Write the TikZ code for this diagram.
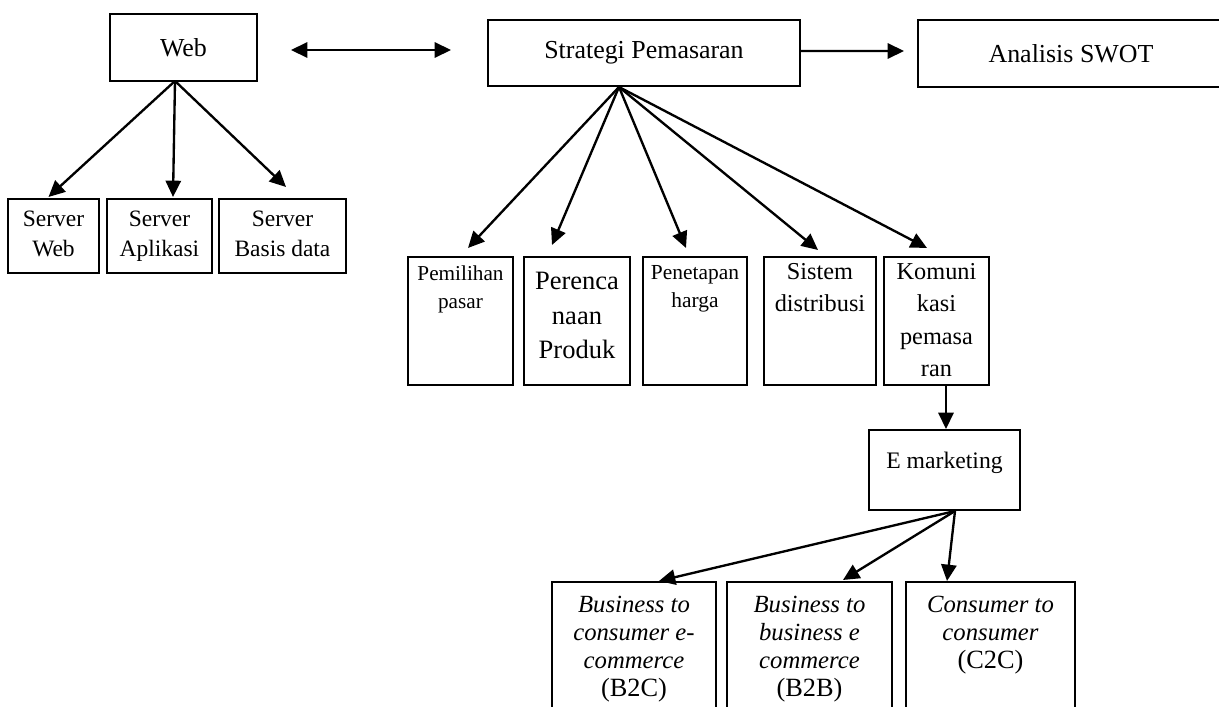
\documentclass[tikz,border=0pt]{standalone}
\usepackage{fontspec}
\setmainfont{Liberation Serif}
\usetikzlibrary{arrows.meta,fit,calc}
\newcommand\fsz[2]{\fontsize{#1}{#2}\selectfont}
\begin{document}
\begin{tikzpicture}[x=0.49pt,y=-0.49pt,
  box/.style={draw,line width=1pt,inner sep=0pt},
  txt/.style={inner sep=0pt,align=center,anchor=north},
  ctxt/.style={inner sep=0pt,align=center},
  arr/.style={line width=1.15pt,-{Triangle[length=8pt,width=7.5pt]}},
  darr/.style={line width=1.15pt,{Triangle[length=8pt,width=7.5pt]}-{Triangle[length=8pt,width=7.5pt]}},
]
\useasboundingbox (0,0) rectangle (1219,707);
\clip (0,0) rectangle (1219,707);

% top row
\node[box,fit={(110,14)(257,81)}] (web) {};
\node[ctxt,font=\fsz{12.7}{15}] (webt) at (web.center) {Web};
\node[box,fit={(488,20)(800,86)}] (str) {};
\node[ctxt,font=\fsz{12.7}{15}] (strt) at (str.center) {Strategi Pemasaran};
\node[box,fit={(918,20)(1228,87)}] (swot) {};
\node[ctxt,font=\fsz{12.7}{15}] (swott) at (1071,53.5) {Analisis SWOT};

\draw[darr] ($(web.east)+(33,2.5)$) -- ($(str.west)+(-36,-3)$);
\draw[arr] ($(str.east)+(0,-2)$) -- ($(swot.west)+(-13,-2.5)$);

% servers
\node[box,fit={(8,199)(99,273)}] (sweb) {};
\node[txt,font=\fsz{11.5}{14.7}] (swebt) at (53.5,211) {Server\\Web};
\node[box,fit={(107,199)(212,273)}] (sapl) {};
\node[txt,font=\fsz{11.5}{14.7}] (saplt) at (159.5,211) {Server\\Aplikasi};
\node[box,fit={(219,199)(346,273)}] (sbas) {};
\node[txt,font=\fsz{11.5}{14.7}] (sbast) at (282.5,211) {Server\\Basis data};

\coordinate (wa) at (175,81);
\draw[arr] (wa) -- ($(sweb.north)+(-5,-1)$);
\draw[arr] (wa) -- ($(sapl.north)+(13.5,-1)$);
\draw[arr] (wa) -- ($(sbas.north)+(3.5,-11)$);

% marketing row
\node[box,fit={(408,257)(513,385)}] (pem) {};
\node[txt,font=\fsz{10.4}{13.7}] (pemt) at (460.5,265) {Pemilihan\\pasar};
\node[box,fit={(524,257)(630,385)}] (per) {};
\node[txt,font=\fsz{13}{16.9}] (pert) at (577,272) {Perenca\\naan\\Produk};
\node[box,fit={(643,257)(747,385)}] (pen) {};
\node[txt,font=\fsz{10.5}{13.7}] (pent) at (695,265) {Penetapan\\harga};
\node[box,fit={(764,257)(876,385)}] (sis) {};
\node[txt,font=\fsz{11.9}{15.9}] (sist) at (820,263) {Sistem\\distribusi};
\node[box,fit={(884,257)(989,385)}] (kom) {};
\node[txt,font=\fsz{11.9}{15.9}] (komt) at (936.5,263) {Komuni\\kasi\\pemasa\\ran};

\coordinate (sa) at (619,87);
\draw[arr] (sa) -- ($(pem.north)+(7.5,-8)$);
\draw[arr] (sa) -- ($(per.north)+(-25,-11)$);
\draw[arr] (sa) -- ($(pen.north)+(-9,-8)$);
\draw[arr] (sa) -- ($(sis.north)+(-2,-6)$);
\draw[arr] (sa) -- ($(kom.north)+(-9.5,-8)$);

% E marketing
\node[box,fit={(869,430)(1020,510)}] (emk) {};
\node[txt,font=\fsz{11.6}{14}] (emkt) at (944.5,452) {E marketing};
\draw[arr] ($(kom.south)+(9.5,0)$) -- ($(emk.north)+(1.5,0)$);

% bottom row
\node[box,fit={(552,582)(716,730)}] (b2c) {};
\node[txt,font=\fsz{12.1}{13.6}] (b2ct) at (634,596) {\itshape Business to\\\itshape consumer e-\\\itshape commerce\\\fsz{12.9}{13.6}(B2C)};
\node[box,fit={(727,582)(892,730)}] (b2b) {};
\node[txt,font=\fsz{12.1}{13.6}] (b2bt) at (809.5,596) {\itshape Business to\\\itshape business e\\\itshape commerce\\\fsz{12.9}{13.6}(B2B)};
\node[box,fit={(906,582)(1075,730)}] (c2c) {};
\node[txt,font=\fsz{12.1}{13.6}] (c2ct) at (990.5,596) {\itshape Consumer to\\\itshape consumer\\\fsz{12.9}{13.6}(C2C)};

\coordinate (ea) at (955,511);
\draw[arr] (ea) -- ($(b2c.north)+(25,0)$);
\draw[arr] (ea) -- ($(b2b.north)+(33.5,-1)$);
\draw[arr] (ea) -- ($(c2c.north)+(-43.5,0)$);
\end{tikzpicture}
\end{document}
